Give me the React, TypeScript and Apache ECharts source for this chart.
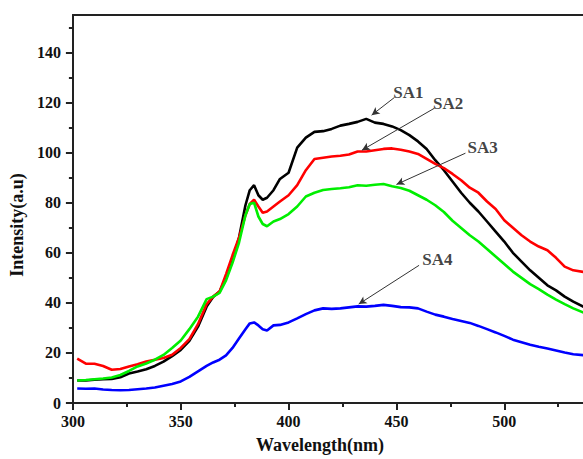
import React, { useEffect, useRef } from "react";
import * as echarts from "echarts";

const wavelengths = [302, 306, 310, 314, 318, 322, 326, 330, 334, 338, 342, 346, 350, 354, 358, 362, 365, 368, 371, 374, 377, 380, 382, 384, 386, 388, 390, 393, 396, 400, 404, 408, 412, 416, 420, 424, 428, 432, 436, 440, 444, 448, 452, 456, 460, 464, 468, 472, 476, 480, 484, 488, 492, 496, 500, 504, 508, 512, 516, 520, 524, 528, 532, 537];

const sa1 = [9.0, 9.0, 9.3, 9.5, 9.6, 10.3, 11.8, 12.6, 13.5, 14.8, 16.5, 18.7, 21.2, 24.8, 30.5, 38.5, 42.3, 44.5, 50, 57, 66, 79, 85, 87, 83, 81.2, 82, 85, 89.5, 92, 102, 106, 108.3, 108.6, 109.5, 110.8, 111.5, 112.3, 113.5, 112, 111.5, 110.5, 109, 107, 104.5, 101.5, 97, 93, 88.5, 84, 80, 76.5, 72.5, 68.5, 64.5, 60, 56.5, 53, 50, 47, 45, 42.5, 40.5, 38.3];

const sa2 = [17.7, 15.7, 15.7, 14.8, 13.3, 13.6, 14.6, 15.5, 16.6, 17.3, 18, 19.3, 22, 25.5, 31.5, 39.5, 42.5, 44.5, 51.5, 59, 66, 75, 79.5, 81.2, 78.5, 76, 76.5, 78.5, 80.5, 83, 87, 93, 97.5, 98, 98.5, 98.8, 99.3, 100.5, 100.5, 101, 101.5, 101.7, 101.2, 100.5, 99.5, 97.5, 95.5, 93.8, 91.5, 89, 86, 84, 80.5, 77.5, 73, 70, 67, 64.5, 62.5, 61, 58, 54.5, 53, 52.3];

const sa3 = [9.0, 9.2, 9.5, 9.8, 10.2, 11.2, 12.8, 14.6, 15.8, 17.3, 19.2, 22, 25, 29.5, 34.5, 41.5, 42.5, 44, 49, 56, 64, 75, 79.5, 80, 74.5, 71.5, 70.6, 72.5, 73.5, 75.5, 78.5, 82.5, 84, 85.1, 85.5, 85.8, 86.2, 87, 86.8, 87.2, 87.5, 86.6, 85.9, 84.8, 83, 81.2, 79, 76.3, 72.8, 69.9, 67, 64.5, 61.5, 58.5, 55.5, 52.5, 50, 47.5, 45.5, 43.3, 41.3, 39.5, 37.8, 36];

const sa4 = [5.8, 5.7, 5.8, 5.4, 5.2, 5.1, 5.2, 5.5, 5.8, 6.2, 6.9, 7.6, 8.6, 10.4, 12.6, 14.8, 16.2, 17.3, 19, 22, 25.8, 29.5, 31.8, 32.2, 31, 29.5, 29, 31, 31.2, 32.2, 33.8, 35.5, 37, 37.8, 37.6, 37.8, 38.2, 38.6, 38.5, 38.8, 39.2, 38.8, 38.3, 38.2, 37.8, 36.5, 35.3, 34.5, 33.6, 32.8, 32, 30.8, 29.5, 28.2, 26.8, 25.3, 24.3, 23.3, 22.5, 21.8, 21, 20.2, 19.5, 19.1];

const seriesNames = ["SA1", "SA2", "SA3", "SA4"];
const seriesColors = ["#000000", "#ff0000", "#00ee00", "#0000ff"];

const xMajorTicks = [300, 350, 400, 450, 500];
const xMinorTicks = [325, 375, 425, 475, 525];
const yMajorTicks = [0, 20, 40, 60, 80, 100, 120, 140];
const yMinorTicks = [10, 30, 50, 70, 90, 110, 130, 150];

const annLabels = ["SA1", "SA2", "SA3", "SA4"];
const annTextPos = [[455.5, 124], [474, 119.5], [490, 102], [469, 57.5]];
const annLineStart = [[449, 122], [467.5, 117.7], [482, 99.8], [460.5, 55]];
const annLineEnd = [[438.5, 115], [434, 101], [450, 87.3], [432.5, 39.5]];

const FONT = "Liberation Serif";
const AXIS_COLOR = "#222";

export default function App() {
  const ref = useRef<HTMLDivElement>(null);

  useEffect(() => {
    if (!ref.current) return;
    const chart = echarts.init(ref.current, undefined, { renderer: "svg" });
    const xMin = 300;
    const xMax = 536.5;
    const yMin = 0;
    const yMax = 155;
    const allData = [sa1, sa2, sa3, sa4];

    const lineSeries = allData.map((vals, i) => ({
      type: "line",
      name: seriesNames[i],
      data: wavelengths.map((w, j) => [w, vals[j]]),
      showSymbol: false,
      symbol: "none",
      lineStyle: { color: seriesColors[i], width: 2.6 },
      itemStyle: { color: seriesColors[i] },
      z: 2 + i,
      markLine:
        i === 0
          ? {
              silent: true,
              symbol: ["none", "arrow"],
              symbolSize: [6, 8],
              label: { show: false },
              lineStyle: { color: "#333", width: 1, type: "solid" },
              data: annLineStart.map((s, k) => [{ coord: s }, { coord: annLineEnd[k] }]),
            }
          : undefined,
    }));

    const option: any = {
      animation: false,
      backgroundColor: "#ffffff",
      grid: { left: 69, top: 15, right: 0, bottom: 54.5 },
      xAxis: [
        {
          type: "value",
          min: xMin,
          max: xMax,
          position: "bottom",
          axisLine: { show: true, onZero: false, lineStyle: { color: AXIS_COLOR, width: 2 } },
          axisTick: { show: true, length: 7, customValues: xMajorTicks, lineStyle: { color: AXIS_COLOR, width: 2 } },
          axisLabel: { customValues: xMajorTicks, fontFamily: FONT, fontWeight: "bold", fontSize: 16, color: "#111", margin: 10 },
          splitLine: { show: false },
          name: "Wavelength(nm)",
          nameLocation: "middle",
          nameGap: 33,
          nameTextStyle: { fontFamily: FONT, fontWeight: "bold", fontSize: 18, color: "#111", padding: [0, 16, 0, 0] },
        },
        {
          type: "value",
          min: xMin,
          max: xMax,
          position: "bottom",
          axisLine: { show: false, onZero: false },
          axisTick: { show: true, length: 4, customValues: xMinorTicks, lineStyle: { color: AXIS_COLOR, width: 2 } },
          axisLabel: { show: false },
          splitLine: { show: false },
        },
        {
          type: "value",
          min: xMin,
          max: xMax,
          position: "top",
          axisLine: { show: true, onZero: false, lineStyle: { color: AXIS_COLOR, width: 2 } },
          axisTick: { show: false },
          axisLabel: { show: false },
          splitLine: { show: false },
        },
      ],
      yAxis: [
        {
          type: "value",
          min: yMin,
          max: yMax,
          position: "left",
          axisLine: { show: true, onZero: false, lineStyle: { color: AXIS_COLOR, width: 2 } },
          axisTick: { show: true, length: 7, customValues: yMajorTicks, lineStyle: { color: AXIS_COLOR, width: 2 } },
          axisLabel: { customValues: yMajorTicks, fontFamily: FONT, fontWeight: "bold", fontSize: 16, color: "#111", margin: 12 },
          splitLine: { show: false },
          name: "Intensity(a.u)",
          nameLocation: "middle",
          nameGap: 43,
          nameTextStyle: { fontFamily: FONT, fontWeight: "bold", fontSize: 18, color: "#111", padding: [0, 32, 0, 0] },
        },
        {
          type: "value",
          min: yMin,
          max: yMax,
          position: "left",
          axisLine: { show: false, onZero: false },
          axisTick: { show: true, length: 4, customValues: yMinorTicks, lineStyle: { color: AXIS_COLOR, width: 2 } },
          axisLabel: { show: false },
          splitLine: { show: false },
        },
      ],
      series: [
        ...lineSeries,
        {
          type: "scatter",
          data: annTextPos,
          symbolSize: 1,
          itemStyle: { color: "transparent" },
          silent: true,
          z: 10,
          label: {
            show: true,
            position: "inside",
            formatter: (p: any) => annLabels[p.dataIndex],
            fontFamily: FONT,
            fontWeight: "bold",
            fontSize: 17,
            color: "#111",
          },
        },
      ],
    };

    chart.setOption(option);
    return () => chart.dispose();
  }, []);

  return (
    <div
      ref={ref}
      style={{ position: "absolute", left: 0, top: 0, width: 583, height: 459, background: "#fff" }}
    />
  );
}
